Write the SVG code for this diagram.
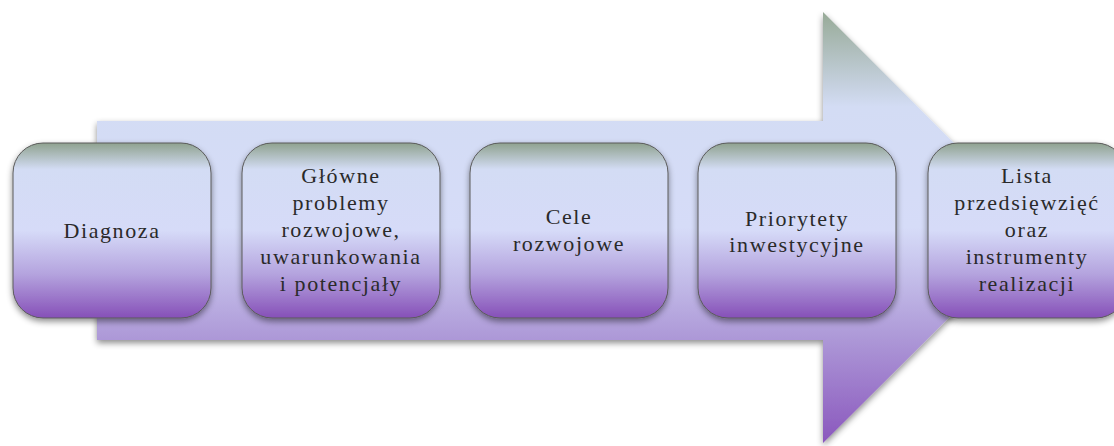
<svg xmlns="http://www.w3.org/2000/svg" width="1114" height="446" viewBox="0 0 1114 446">
<defs>
<linearGradient id="ga" x1="0" y1="12" x2="0" y2="443" gradientUnits="userSpaceOnUse">
<stop offset="0" stop-color="#97aa97"/>
<stop offset="0.22" stop-color="#d3dcf4"/>
<stop offset="0.5" stop-color="#d6dcf8"/>
<stop offset="0.75" stop-color="#ae9ad8"/>
<stop offset="1" stop-color="#8a57bd"/>
</linearGradient>
<linearGradient id="gb" x1="0" y1="0" x2="0" y2="1">
<stop offset="0" stop-color="#8fa28f"/>
<stop offset="0.15" stop-color="#d3dcf4"/>
<stop offset="0.5" stop-color="#d6dbf8"/>
<stop offset="0.75" stop-color="#b4a3de"/>
<stop offset="1" stop-color="#8650b8"/>
</linearGradient>
<filter id="sh" x="-10%" y="-10%" width="120%" height="130%">
<feDropShadow dx="0" dy="3" stdDeviation="3" flood-color="#000" flood-opacity="0.45"/>
</filter>
</defs>
<style>
.box{fill:url(#gb);stroke:#5a5a5a;stroke-width:1;filter:url(#sh)}
.t{font-family:'Liberation Serif',serif;font-weight:normal;font-size:22px;fill:#2a2a2a;text-anchor:middle;letter-spacing:1.6px}
</style>
<g id="arrow">
<path d="M97,121 L823,121 L823,12 L1039,228 L823,443 L823,340 L97,340 Z" fill="url(#ga)" filter="url(#sh)"/>
</g>
<g id="connectors"></g>
<g id="n1">
<rect class="box" x="13" y="143" width="198" height="175" rx="30"/>
<text class="t" x="112" y="238">Diagnoza</text>
</g>
<g id="n2">
<rect class="box" x="242" y="143" width="198" height="175" rx="30"/>
<text class="t" x="341" y="183">Główne</text>
<text class="t" x="341" y="210">problemy</text>
<text class="t" x="341" y="237">rozwojowe,</text>
<text class="t" x="341" y="264">uwarunkowania</text>
<text class="t" x="341" y="291">i potencjały</text>
</g>
<g id="n3">
<rect class="box" x="470" y="143" width="198" height="175" rx="30"/>
<text class="t" x="569" y="224">Cele</text>
<text class="t" x="569" y="251">rozwojowe</text>
</g>
<g id="n4">
<rect class="box" x="698" y="143" width="198" height="175" rx="30"/>
<text class="t" x="797" y="226">Priorytety</text>
<text class="t" x="797" y="252">inwestycyjne</text>
</g>
<g id="n5">
<rect class="box" x="928" y="143" width="198" height="175" rx="30"/>
<text class="t" x="1027" y="183">Lista</text>
<text class="t" x="1027" y="210">przedsięwzięć</text>
<text class="t" x="1027" y="237">oraz</text>
<text class="t" x="1027" y="264">instrumenty</text>
<text class="t" x="1027" y="291">realizacji</text>
</g>
</svg>
